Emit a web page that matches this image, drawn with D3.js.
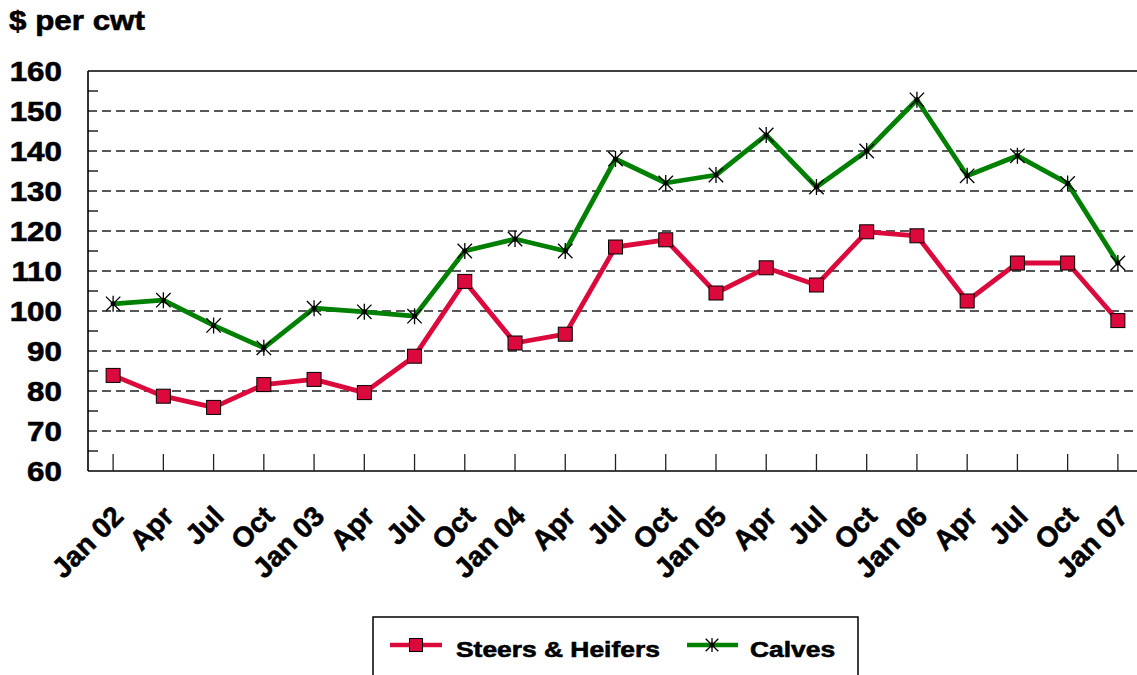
<!DOCTYPE html>
<html>
<head>
<meta charset="utf-8">
<script src="https://cdn.jsdelivr.net/npm/d3@7"></script>
<style>
  html, body { margin: 0; padding: 0; background: #fff; }
  svg { display: block; font-family: "Liberation Sans", Arial, sans-serif; font-weight: bold; }
  svg text { stroke: #000; stroke-width: 0.6px; fill: #000; }
</style>
</head>
<body>
<svg id="chart" width="1137" height="675"></svg>
<script>
const categories = ["Jan 02","Apr","Jul","Oct","Jan 03","Apr","Jul","Oct","Jan 04","Apr","Jul","Oct","Jan 05","Apr","Jul","Oct","Jan 06","Apr","Jul","Oct","Jan 07"];
const steersHeifers = [83.9, 78.7, 75.9, 81.6, 82.9, 79.6, 88.7, 107.4, 92, 94.2, 116, 117.8, 104.5, 110.8, 106.5, 119.8, 118.8, 102.5, 112, 112, 97.6];
const calves = [101.8, 102.7, 96.4, 90.8, 100.7, 99.8, 98.7, 115, 118, 115, 138, 132, 134, 144, 131, 140, 152.8, 133.8, 138.8, 131.9, 112];
const yTicks = [60, 70, 80, 90, 100, 110, 120, 130, 140, 150, 160];
const yMinorTicks = [65, 75, 85, 95, 105, 115, 125, 135, 145, 155];
const seriesNames = ["Steers & Heifers", "Calves"];

const svg = d3.select("#chart");
const pL = 88, pR = 1143, pT = 71, pB = 471;

const x = d3.scalePoint().domain(d3.range(categories.length)).range([pL, pR]).padding(0.5);
const y = d3.scaleLinear().domain([60, 160]).range([pB, pT]);

// gridlines
svg.append("g").selectAll("line").data(yTicks.filter(v => v > 60 && v < 160)).join("line")
  .attr("x1", pL).attr("x2", pR)
  .attr("y1", d => y(d)).attr("y2", d => y(d))
  .attr("stroke", "#222").attr("stroke-width", 1.4).attr("stroke-dasharray", "9,5");

// minor inward y ticks
svg.append("g").selectAll("line").data(yMinorTicks).join("line")
  .attr("x1", pL).attr("x2", pL + 10)
  .attr("y1", d => y(d)).attr("y2", d => y(d))
  .attr("stroke", "#000").attr("stroke-width", 1.3);

// frame: top, left, bottom
svg.append("line").attr("x1", pL).attr("x2", pR).attr("y1", pT).attr("y2", pT).attr("stroke", "#000").attr("stroke-width", 1.6);
svg.append("line").attr("x1", pL).attr("x2", pL).attr("y1", pT).attr("y2", pB).attr("stroke", "#000").attr("stroke-width", 1.6);
svg.append("line").attr("x1", pL).attr("x2", pR).attr("y1", pB).attr("y2", pB).attr("stroke", "#000").attr("stroke-width", 1.6);

// x ticks (upward)
svg.append("g").selectAll("line").data(d3.range(categories.length)).join("line")
  .attr("x1", d => x(d)).attr("x2", d => x(d))
  .attr("y1", pB).attr("y2", pB - 17)
  .attr("stroke", "#222").attr("stroke-width", 1.3);

// y labels
svg.append("g").selectAll("text").data(yTicks).join("text")
  .attr("transform", d => `translate(62,${y(d)}) scale(1.12,1)`)
  .attr("text-anchor", "end").attr("dy", "0.36em")
  .attr("font-size", 28).text(d => d);

// x labels rotated
svg.append("g").selectAll("text").data(categories).join("text")
  .attr("transform", (d, i) => `translate(${x(i) + 12},518) rotate(-45)`)
  .attr("text-anchor", "end").attr("font-size", 28).text(d => d);

// title
svg.append("text").attr("transform", `translate(9,30) scale(1.12,1)`)
  .attr("font-size", 28).text("$ per cwt");

const red = "#DC0A3C", green = "#008000";

const line = d3.line().x((d, i) => x(i)).y(d => y(d));

svg.append("path").datum(calves).attr("d", line)
  .attr("fill", "none").attr("stroke", green).attr("stroke-width", 4.8).attr("stroke-linejoin", "round");
svg.append("path").datum(steersHeifers).attr("d", line)
  .attr("fill", "none").attr("stroke", red).attr("stroke-width", 4.8).attr("stroke-linejoin", "round");

function star(g, cx, cy, r) {
  const s = g.append("g").attr("transform", `translate(${cx},${cy})`);
  const d = r * 0.9;
  s.append("path").attr("d", `M${-d},${-d}L${d},${d}M${-d},${d}L${d},${-d}M0,${-r}L0,${r}`)
    .attr("stroke", "#000").attr("stroke-width", 1.3).attr("fill", "none");
  s.append("circle").attr("r", 2.5).attr("fill", "#000");
}

const gStar = svg.append("g");
calves.forEach((v, i) => star(gStar, x(i), y(v), 8));

svg.append("g").selectAll("rect").data(steersHeifers).join("rect")
  .attr("x", (d, i) => x(i) - 7).attr("y", d => y(d) - 7)
  .attr("width", 14).attr("height", 14)
  .attr("fill", red).attr("stroke", "#000").attr("stroke-width", 1);

// legend
svg.append("rect").attr("x", 373).attr("y", 617).attr("width", 485).attr("height", 70)
  .attr("fill", "none").attr("stroke", "#000").attr("stroke-width", 1.5);
svg.append("line").attr("x1", 390).attr("x2", 442).attr("y1", 645).attr("y2", 645).attr("stroke", red).attr("stroke-width", 4.5);
svg.append("rect").attr("x", 416 - 6.5).attr("y", 645 - 6.5).attr("width", 13).attr("height", 13)
  .attr("fill", red).attr("stroke", "#000").attr("stroke-width", 1);
svg.append("text").attr("transform", `translate(456,657) scale(1.2,1)`).attr("font-size", 22).text(seriesNames[0]);
svg.append("line").attr("x1", 687).attr("x2", 738).attr("y1", 645).attr("y2", 645).attr("stroke", green).attr("stroke-width", 4.5);
star(svg, 712, 645, 7);
svg.append("text").attr("transform", `translate(750,657) scale(1.2,1)`).attr("font-size", 22).text(seriesNames[1]);
</script>
</body>
</html>
